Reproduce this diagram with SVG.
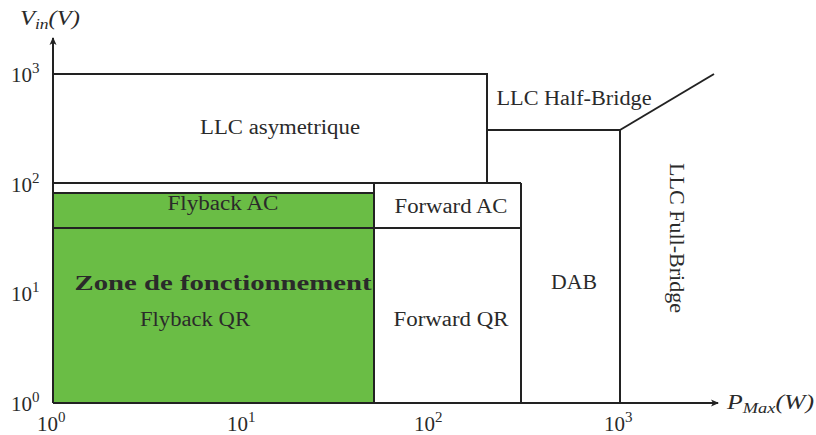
<svg xmlns="http://www.w3.org/2000/svg" width="816" height="435" viewBox="0 0 816 435">
<defs>
<marker id="arr" markerWidth="10" markerHeight="10" refX="8" refY="5" orient="auto" markerUnits="userSpaceOnUse">
<path d="M1,1.5 L9,5 L1,8.5 L3,5 Z" fill="#222"/>
</marker>
<style>
.l{stroke:#222;stroke-width:2;fill:none}
.t{font-family:"Liberation Serif","DejaVu Serif",serif;font-size:20px;fill:#2a2a2a;text-anchor:middle}
.tk{font-family:"Liberation Serif","DejaVu Serif",serif;font-size:21px;fill:#2a2a2a}
.i{font-style:italic}
</style>
</defs>
<rect width="816" height="435" fill="#fff"/>
<g id="zone">
<rect x="53" y="193" width="321" height="210" fill="#6abd45"/>
</g>
<g id="connectors">
<line class="l" x1="53" y1="403" x2="53" y2="38" marker-end="url(#arr)"/>
<line class="l" x1="53" y1="403" x2="718" y2="403" marker-end="url(#arr)"/>
<polyline class="l" points="53,74 487,74 487,183"/>
<line class="l" x1="53" y1="183" x2="521" y2="183"/>
<line class="l" x1="53" y1="193" x2="374" y2="193"/>
<line class="l" x1="53" y1="228" x2="521" y2="228"/>
<line class="l" x1="374" y1="183" x2="374" y2="403"/>
<line class="l" x1="521" y1="183" x2="521" y2="403"/>
<polyline class="l" points="487,130 620,130 620,403"/>
<line class="l" x1="620" y1="130" x2="714" y2="74"/>
</g>
<g id="axis-labels">
<text class="tk i" x="20" y="25" textLength="60" lengthAdjust="spacingAndGlyphs">V<tspan font-size="15" dy="4">in</tspan><tspan dy="-4">(V)</tspan></text>
<text class="tk i" x="727" y="409" textLength="87" lengthAdjust="spacingAndGlyphs">P<tspan font-size="15" dy="4">Max</tspan><tspan dy="-4">(W)</tspan></text>
<text class="tk" x="11" y="82">10<tspan font-size="15" dy="-9">3</tspan></text>
<text class="tk" x="11" y="192">10<tspan font-size="15" dy="-9">2</tspan></text>
<text class="tk" x="11" y="301">10<tspan font-size="15" dy="-9">1</tspan></text>
<text class="tk" x="11" y="411">10<tspan font-size="15" dy="-9">0</tspan></text>
<text class="tk" x="37" y="431">10<tspan font-size="15" dy="-9">0</tspan></text>
<text class="tk" x="227" y="431">10<tspan font-size="15" dy="-9">1</tspan></text>
<text class="tk" x="414" y="431">10<tspan font-size="15" dy="-9">2</tspan></text>
<text class="tk" x="604" y="431">10<tspan font-size="15" dy="-9">3</tspan></text>
</g>
<g id="llc-asym"><text class="t" x="280" y="134" textLength="160" lengthAdjust="spacingAndGlyphs">LLC asymetrique</text></g>
<g id="llc-half"><text class="t" x="574" y="105" textLength="155" lengthAdjust="spacingAndGlyphs">LLC Half-Bridge</text></g>
<g id="flyback-ac"><text class="t" x="223" y="210" textLength="111" lengthAdjust="spacingAndGlyphs">Flyback AC</text></g>
<g id="forward-ac"><text class="t" x="451" y="213" textLength="113" lengthAdjust="spacingAndGlyphs">Forward AC</text></g>
<g id="zone-label"><text class="t" x="223" y="290" font-weight="bold" font-size="23" textLength="297" lengthAdjust="spacingAndGlyphs">Zone de fonctionnement</text></g>
<g id="flyback-qr"><text class="t" x="195" y="326" textLength="110" lengthAdjust="spacingAndGlyphs">Flyback QR</text></g>
<g id="forward-qr"><text class="t" x="451" y="326" textLength="115" lengthAdjust="spacingAndGlyphs">Forward QR</text></g>
<g id="dab"><text class="t" x="574" y="289" textLength="46" lengthAdjust="spacingAndGlyphs">DAB</text></g>
<g id="llc-full"><text class="t" transform="translate(670,238) rotate(90)" textLength="150" lengthAdjust="spacingAndGlyphs">LLC Full-Bridge</text></g>
</svg>
